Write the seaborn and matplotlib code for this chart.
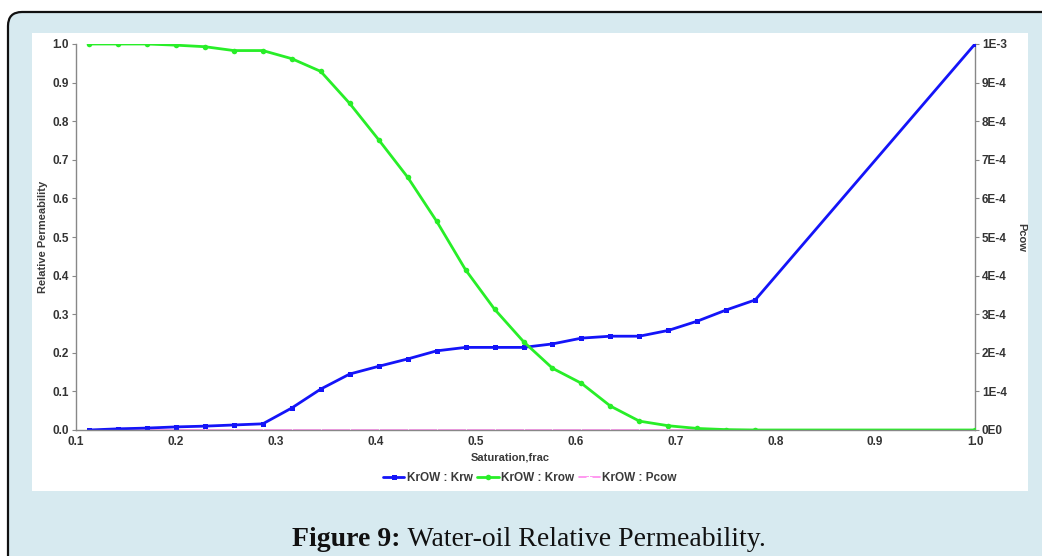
import numpy as np
import pandas as pd
import matplotlib
matplotlib.use('Agg')
import matplotlib.pyplot as plt
import seaborn as sns
from matplotlib.patches import FancyBboxPatch, Rectangle

# saturation grid and curves
sat = [0.113, 0.142, 0.171, 0.200, 0.229, 0.258, 0.287, 0.316, 0.345, 0.374,
       0.403, 0.432, 0.461, 0.490, 0.519, 0.548, 0.577, 0.606, 0.635, 0.664,
       0.693, 0.722, 0.751, 0.780, 1.000]
krw = [0.000, 0.003, 0.005, 0.008, 0.010, 0.013, 0.016, 0.057, 0.106, 0.145,
       0.165, 0.184, 0.205, 0.214, 0.214, 0.214, 0.223, 0.238, 0.243, 0.243,
       0.258, 0.282, 0.311, 0.337, 1.000]
krow = [1.000, 1.000, 1.000, 0.997, 0.993, 0.983, 0.983, 0.962, 0.929, 0.846,
        0.752, 0.655, 0.541, 0.415, 0.313, 0.229, 0.160, 0.121, 0.062, 0.023,
        0.011, 0.004, 0.001, 0.000, 0.000]
pcow = [0.0] * len(sat)

x_ticks = [0.1, 0.2, 0.3, 0.4, 0.5, 0.6, 0.7, 0.8, 0.9, 1.0]
y_ticks = [0.0, 0.1, 0.2, 0.3, 0.4, 0.5, 0.6, 0.7, 0.8, 0.9, 1.0]
pc_ticks = [0, 1e-4, 2e-4, 3e-4, 4e-4, 5e-4, 6e-4, 7e-4, 8e-4, 9e-4, 1e-3]
pc_labels = ['0E0', '1E-4', '2E-4', '3E-4', '4E-4', '5E-4', '6E-4', '7E-4', '8E-4', '9E-4', '1E-3']

df = pd.DataFrame({'sat': sat, 'krw': krw, 'krow': krow, 'pcow': pcow})

sns.set_style('white')
plt.rcParams['font.family'] = ['Liberation Sans', 'DejaVu Sans']

W, H = 1042, 556
fig = plt.figure(figsize=(W / 100, H / 100), dpi=100, facecolor='white')

bg = '#d7eaf0'
fig.patches.append(FancyBboxPatch((8, -60), 1150, 544 + 60, boxstyle='round,pad=0,rounding_size=14',
                                  facecolor=bg, edgecolor='#111111', linewidth=1.6,
                                  transform=None, figure=fig, zorder=-3))
fig.patches.append(Rectangle((32 / W, 1 - 491 / H), 996 / W, 458 / H, transform=fig.transFigure,
                             facecolor='white', edgecolor='none', figure=fig, zorder=-2))

ax = fig.add_axes([76 / W, 1 - 430 / H, 899 / W, 386 / H])
ax2 = ax.twinx()
ax2.set_zorder(1)
ax.set_zorder(2)
ax.patch.set_visible(False)
ax2.patch.set_visible(False)

c_blue = '#1414f8'
c_green = '#28ee28'
c_pink = '#ff88ee'

sns.lineplot(data=df, x='sat', y='pcow', ax=ax2, color=c_pink, marker='+', markersize=5,
             linewidth=1.2, label='KrOW : Pcow', legend=False)
sns.lineplot(data=df, x='sat', y='krw', ax=ax, color=c_blue, marker='s', markersize=3.6,
             markeredgewidth=0, linewidth=2, label='KrOW : Krw', legend=False)
sns.lineplot(data=df, x='sat', y='krow', ax=ax, color=c_green, marker='o', markersize=4,
             markeredgewidth=0, linewidth=2, label='KrOW : Krow', legend=False)

ax.set_xlim(0.1, 1.0)
ax.set_ylim(0, 1.0)
ax2.set_ylim(0, 1e-3)

tick_font = dict(fontsize=8.5, fontweight='bold', color='#333333')
ax.set_xticks(x_ticks)
ax.set_xticklabels([f'{v:.1f}' for v in x_ticks], **tick_font)
ax.set_yticks(y_ticks)
ax.set_yticklabels([f'{v:.1f}' for v in y_ticks], **tick_font)
ax2.set_yticks(pc_ticks)
ax2.set_yticklabels(pc_labels, **tick_font)

for a in (ax, ax2):
    for s in a.spines.values():
        s.set_visible(False)
    a.tick_params(length=3, width=0.8, color='#888888', pad=2, direction='out')
ax.spines['left'].set_visible(True)
ax.spines['bottom'].set_visible(True)
ax2.spines['right'].set_visible(True)
for s in (ax.spines['left'], ax.spines['bottom'], ax2.spines['right']):
    s.set_color('#888888')
    s.set_linewidth(1.0)
ax.tick_params(axis='x', pad=1)

lab_font = dict(fontsize=8, fontweight='bold', color='#3a3a3a')
ax.set_xlabel('Saturation,frac', **lab_font)
ax.xaxis.set_label_coords(0.483, -0.057)
ax.set_ylabel('Relative Permeability', **lab_font)
ax.yaxis.set_label_coords(-0.031, 0.5)
ax2.set_ylabel('Pcow', rotation=270, va='center', **lab_font)
ax2.yaxis.set_label_coords(1.052, 0.5)

handles = [ax.lines[0], ax.lines[1], ax2.lines[0]]
labels = ['KrOW : Krw', 'KrOW : Krow', 'KrOW : Pcow']
leg = fig.legend(handles, labels, loc='center', bbox_to_anchor=(530 / W, 1 - 478 / H), ncol=3,
                 frameon=False, handlelength=1.8, handletextpad=0.2, columnspacing=0.4,
                 prop={'size': 8.5, 'weight': 'bold'})
for t in leg.get_texts():
    t.set_color('#3a3a3a')

serif = ['Liberation Serif', 'DejaVu Serif']
t1 = fig.text(0, 1 - 540 / H, 'Figure 9:', fontsize=20, fontweight='bold',
              family=serif, ha='left', va='center', color='#111111')
t2 = fig.text(0, 1 - 540 / H, ' Water-oil Relative Permeability.', fontsize=20,
              family=serif, ha='left', va='center', color='#111111')
fig.canvas.draw()
r = fig.canvas.get_renderer()
w1 = t1.get_window_extent(r).width
w2 = t2.get_window_extent(r).width
x0 = 529 - (w1 + w2) / 2
t1.set_x(x0 / W)
t2.set_x((x0 + w1) / W)

fig.savefig('out.png', dpi=100, facecolor='white')
